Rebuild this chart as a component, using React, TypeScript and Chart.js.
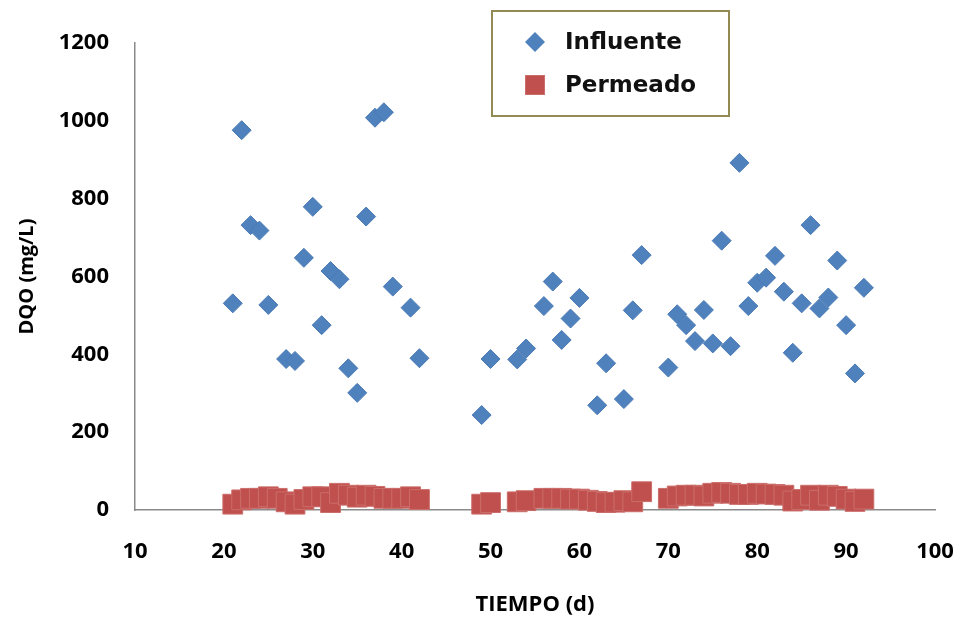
import React, { useEffect, useRef } from "react";
import { Chart, registerables } from "chart.js";

Chart.register(...registerables);

const influenteDays = [21, 22, 23, 24, 25, 27, 28, 29, 30, 31, 32, 33, 34, 35, 36, 37, 38, 39, 41, 42, 49, 50, 53, 54, 56, 57, 58, 59, 60, 62, 63, 65, 66, 67, 70, 71, 72, 73, 74, 75, 76, 77, 78, 79, 80, 81, 82, 83, 84, 85, 86, 87, 88, 89, 90, 91, 92];
const influenteDQO = [531, 976, 732, 718, 527, 388, 383, 648, 779, 475, 614, 593, 364, 301, 754, 1008, 1022, 574, 520, 390, 244, 388, 387, 415, 524, 587, 437, 492, 545, 269, 377, 285, 513, 655, 366, 503, 475, 434, 514, 428, 692, 421, 892, 524, 584, 597, 653, 561, 404, 531, 732, 518, 546, 641, 475, 351, 571];

const permeadoDays = [21, 22, 23, 24, 25, 26, 27, 28, 29, 30, 31, 32, 33, 34, 35, 36, 37, 38, 39, 40, 41, 42, 49, 50, 53, 54, 56, 57, 58, 59, 60, 61, 62, 63, 64, 65, 66, 67, 70, 71, 72, 73, 74, 75, 76, 77, 78, 79, 80, 81, 82, 83, 84, 85, 86, 87, 88, 89, 90, 91, 92];
const permeadoDQO = [15, 26, 30, 30, 34, 30, 21, 15, 27, 34, 34, 19, 43, 38, 33, 38, 35, 30, 30, 30, 34, 27, 15, 19, 21, 24, 30, 30, 30, 28, 28, 25, 22, 19, 20, 24, 21, 47, 30, 36, 38, 38, 36, 43, 45, 43, 40, 40, 43, 41, 40, 38, 23, 27, 38, 25, 38, 35, 28, 22, 28];

const seriesLabels = ["Influente", "Permeado"];
const xTitle = "TIEMPO (d)";
const yTitle = "DQO (mg/L)";

const BLUE = "#4F81BD";
const RED = "#C0504D";

const legendBoxPlugin = {
  id: "legendBox",
  afterDraw(chart: any) {
    const ctx = chart.ctx;
    ctx.save();
    ctx.strokeStyle = "#938953";
    ctx.lineWidth = 2;
    ctx.fillStyle = "#ffffff";
    ctx.fillRect(492, 11, 237, 105);
    ctx.strokeRect(492, 11, 237, 105);
    ctx.fillStyle = BLUE;
    ctx.beginPath();
    ctx.moveTo(535 - 10, 42);
    ctx.lineTo(535, 32);
    ctx.lineTo(535 + 10, 42);
    ctx.lineTo(535, 52);
    ctx.closePath();
    ctx.fill();
    ctx.fillStyle = RED;
    ctx.fillRect(525, 75, 20, 20);
    ctx.strokeStyle = "#CB6E6B";
    ctx.lineWidth = 1;
    ctx.strokeRect(525.5, 75.5, 19, 19);
    ctx.fillStyle = "#111111";
    ctx.font = "bold 23px 'DejaVu Sans'";
    ctx.textBaseline = "middle";
    ctx.textAlign = "left";
    ctx.fillText(chart.data.datasets[0].label, 565, 43);
    ctx.fillText(chart.data.datasets[1].label, 565, 86);
    ctx.restore();
  },
};

export default function App() {
  const ref = useRef<HTMLCanvasElement | null>(null);
  useEffect(() => {
    if (!ref.current) return;
    const tickFont = { family: "'Open Sans'", size: 22, weight: "bold" as const };
    const chart = new Chart(ref.current, {
      type: "scatter",
      data: {
        datasets: [
          {
            label: seriesLabels[0],
            data: influenteDays.map((d, i) => ({ x: d, y: influenteDQO[i] })),
            pointStyle: "rectRot",
            pointRadius: 9.5,
            backgroundColor: BLUE,
            borderColor: "#4A7AB5",
            borderWidth: 1,
            clip: false as any,
          },
          {
            label: seriesLabels[1],
            data: permeadoDays.map((d, i) => ({ x: d, y: permeadoDQO[i] })),
            pointStyle: "rect",
            pointRadius: 14,
            backgroundColor: RED,
            borderColor: "#CB6E6B",
            borderWidth: 1,
            clip: false as any,
          },
        ],
      },
      plugins: [legendBoxPlugin],
      options: {
        responsive: false,
        animation: false,
        devicePixelRatio: 1,
        layout: { padding: { top: 43, right: 23, left: 0, bottom: 0 } },
        plugins: {
          legend: { display: false },
          tooltip: { enabled: false },
        },
        scales: {
          x: {
            type: "linear",
            min: 10,
            max: 100,
            afterFit: (s: any) => {
              s.height = 110;
              s.paddingLeft = 0;
              s.paddingRight = 0;
            },
            grid: { display: false, drawTicks: false },
            border: { display: true, color: "#8a8a8a", width: 1.5 },
            ticks: { stepSize: 10, color: "#000", font: tickFont, padding: 29, callback: (v: any) => String(v) },
            title: {
              display: true,
              text: xTitle,
              color: "#000",
              font: { family: "'Open Sans'", size: 22, weight: "bold" },
              padding: { top: 0, bottom: 2 },
            },
          },
          y: {
            type: "linear",
            min: 0,
            max: 1200,
            afterFit: (s: any) => {
              s.width = 135;
              s.paddingTop = 0;
              s.paddingBottom = 0;
            },
            grid: { display: false, drawTicks: false },
            border: { display: true, color: "#8a8a8a", width: 1.5 },
            ticks: { stepSize: 200, color: "#000", font: tickFont, padding: 26, callback: (v: any) => String(v) },
            title: {
              display: true,
              text: yTitle,
              color: "#000",
              font: { family: "'Open Sans'", size: 20, weight: "bold" },
              padding: { top: 15, bottom: 0 },
            },
          },
        },
      },
    });
    return () => chart.destroy();
  }, []);
  return (
    <div style={{ position: "fixed", left: 0, top: 0, width: 958, height: 620, background: "#fff" }}>
      <canvas ref={ref} width={958} height={620} style={{ width: 958, height: 620 }} />
    </div>
  );
}
